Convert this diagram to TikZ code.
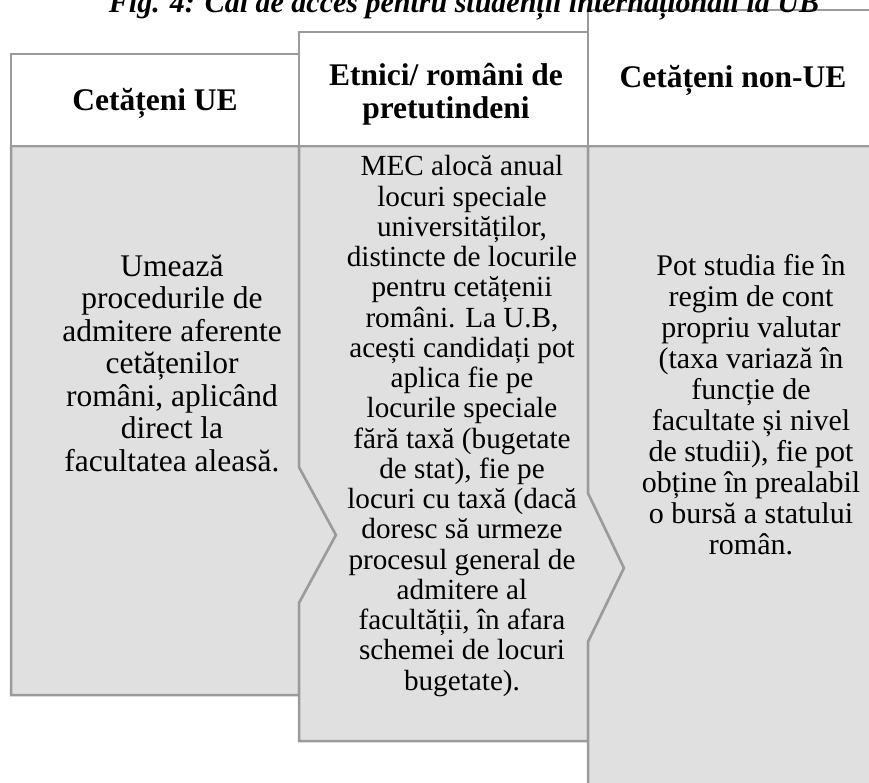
\documentclass[tikz,border=0pt]{standalone}
\usepackage{fontspec}
\setmainfont{Liberation Serif}
\definecolor{edgegray}{RGB}{155,155,155}
\definecolor{bodyfill}{RGB}{224,224,224}
\begin{document}
\begin{tikzpicture}[x=1pt,y=-1pt,
  box/.style={draw=edgegray,line width=2.5pt,line join=miter},
  headbox/.style={box,fill=white},
  bodybox/.style={box,fill=bodyfill},
  htext/.style={font=\fontsize{31.5}{32.5}\selectfont\bfseries,align=center,inner sep=0pt},
  tone/.style={font=\fontsize{31.5}{32.5}\selectfont,align=center,inner sep=0pt},
  ttwo/.style={font=\fontsize{29.2}{30.25}\selectfont,align=center,inner sep=0pt},
  tthree/.style={font=\fontsize{30}{31}\selectfont,align=center,inner sep=0pt},
  titletext/.style={font=\fontsize{30}{32}\selectfont\bfseries\itshape,inner sep=0pt}]
\useasboundingbox (0,0) rectangle (869,782);
\clip (0,0) rectangle (869,782);
% bodies
\draw[bodybox] (11,146) -- (299,146) -- (299,467) -- (336,535) -- (299,603) -- (299,695) -- (11,695) -- cycle;
\draw[bodybox] (299,146) -- (588,146) -- (588,493) -- (624,568) -- (588,642) -- (588,741) -- (299,741) -- (299,603) -- (336,535) -- (299,467) -- cycle;
\draw[bodybox] (588,146) -- (885,146) -- (885,800) -- (588,800) -- (588,642) -- (624,568) -- (588,493) -- cycle;
% headers
\draw[headbox] (11,54) rectangle (299,146);
\draw[headbox] (299,32) rectangle (588,146);
\draw[headbox] (588,10) rectangle (885,146);
% title (cut off at the top edge, as in the reference)
\node[titletext,anchor=base] (title) at (464,12) {Fig. 4: Căi de acces pentru studenții internaționali la UB};
% header texts
\node[htext,anchor=base] (h1) at (155,110) {Cetățeni UE};
\node[htext,anchor=center] (h2) at (446,94) {Etnici/ români de\\pretutindeni};
\node[htext,anchor=base] (h3) at (733,87) {Cetățeni non-UE};
% body texts
\node[tone] (t1) at (172,363) {Umează\\procedurile de\\admitere aferente\\cetățenilor\\români, aplicând\\direct la\\facultatea aleasă.};
\node[ttwo] (t2) at (462,426) {MEC alocă anual\\locuri speciale\\universităților,\\distincte de locurile\\pentru cetățenii\\români. La U.B,\\acești candidați pot\\aplica fie pe\\locurile speciale\\fără taxă (bugetate\\de stat), fie pe\\locuri cu taxă (dacă\\doresc să urmeze\\procesul general de\\admitere al\\facultății, în afara\\schemei de locuri\\bugetate).};
\node[tthree] (t3) at (751,405) {Pot studia fie în\\regim de cont\\propriu valutar\\(taxa variază în\\funcție de\\facultate și nivel\\de studii), fie pot\\obține în prealabil\\o bursă a statului\\român.};
\end{tikzpicture}
\end{document}
